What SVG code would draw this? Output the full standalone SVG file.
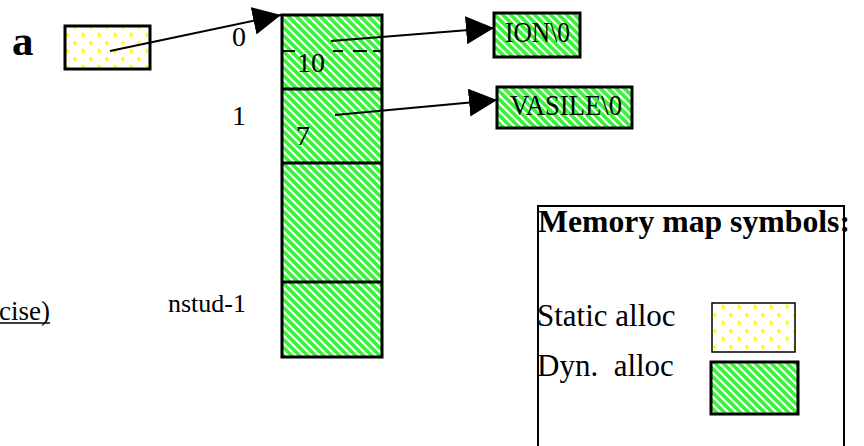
<svg xmlns="http://www.w3.org/2000/svg" width="864" height="446" viewBox="0 0 864 446">
  <defs>
    <pattern id="green" patternUnits="userSpaceOnUse" width="8" height="8">
      <rect width="8" height="8" fill="#ffffff"/>
      <path d="M-2,-2 L10,10 M-2,6 L2,10 M6,-2 L10,2" stroke="#3cf03c" stroke-width="3.5" fill="none"/>
    </pattern>
    <pattern id="yellow" patternUnits="userSpaceOnUse" width="16" height="16">
      <rect width="16" height="16" fill="#ffffff"/>
      <path d="M2,1 L4,3 L2,5 M12,9 L10,11 L12,13" stroke="#ffff00" stroke-width="2" fill="none"/>
    </pattern>
    <marker id="arrow" markerUnits="userSpaceOnUse" markerWidth="29" markerHeight="28" refX="28" refY="14" orient="auto">
      <path d="M0,0 L28,14 L0,28 z" fill="#000"/>
    </marker>
  </defs>
  <style>
    text { font-family: "Liberation Serif", "Times New Roman", serif; fill: #000; }
    .lbl { font-size: 28px; }
    .big { font-size: 31px; }
    .conn { stroke: #000; stroke-width: 2; fill: none; marker-end: url(#arrow); }
    .dyn { fill: url(#green); stroke: #000; stroke-width: 3; }
    .stat { fill: url(#yellow); stroke: #000; stroke-width: 3; }
  </style>
  <rect width="864" height="446" fill="#ffffff"/>

  <g id="var-a">
    <text x="12" y="55" style="font-size:43px;font-weight:bold">a</text>
    <rect class="stat" x="65" y="26" width="85" height="43"/>
  </g>

  <g id="array">
    <rect class="dyn" x="282" y="15" width="100" height="342"/>
    <line x1="282" y1="89" x2="382" y2="89" stroke="#000" stroke-width="3"/>
    <line x1="282" y1="163" x2="382" y2="163" stroke="#000" stroke-width="3"/>
    <line x1="282" y1="282" x2="382" y2="282" stroke="#000" stroke-width="3"/>
    <line x1="282" y1="51" x2="382" y2="51" stroke="#000" stroke-width="2" stroke-dasharray="13 38 10 10 14 6 10"/>
    <text class="lbl" x="297" y="72">10</text>
    <text class="lbl" x="296" y="145">7</text>
  </g>

  <g id="indices">
    <text class="lbl" x="232" y="46">0</text>
    <text class="lbl" x="232" y="125">1</text>
    <text x="168" y="312" style="font-size:26px">nstud-1</text>
  </g>

  <g id="note">
    <text x="-1" y="320" style="font-size:27px">cise)</text>
    <line x1="0" y1="323" x2="50" y2="323" stroke="#000" stroke-width="1.5"/>
  </g>

  <g id="str-ion">
    <rect class="dyn" x="494" y="13" width="86" height="44"/>
    <text x="505" y="42" style="font-size:29px" textLength="65" lengthAdjust="spacingAndGlyphs">ION\0</text>
  </g>

  <g id="str-vasile">
    <rect class="dyn" x="497" y="87" width="135" height="41"/>
    <text x="510" y="115" style="font-size:29px" textLength="112" lengthAdjust="spacingAndGlyphs">VASILE\0</text>
  </g>

  <g id="legend">
    <rect x="538" y="206" width="306" height="260" fill="none" stroke="#000" stroke-width="2"/>
    <text x="538" y="232" style="font-size:31px;font-weight:bold" textLength="312" lengthAdjust="spacingAndGlyphs">Memory map symbols:</text>
    <text class="big" x="537" y="326">Static alloc</text>
    <text class="big" x="537" y="376" style="white-space:pre">Dyn.  alloc</text>
    <rect x="712" y="303" width="83" height="49" fill="url(#yellow)" stroke="#000" stroke-width="1.5"/>
    <rect class="dyn" x="711" y="362" width="87" height="52"/>
  </g>

  <g id="connectors">
    <line class="conn" x1="110" y1="51" x2="281" y2="15"/>
    <line class="conn" x1="331" y1="41" x2="494" y2="28"/>
    <line class="conn" x1="335" y1="115" x2="497" y2="100"/>
  </g>
</svg>
